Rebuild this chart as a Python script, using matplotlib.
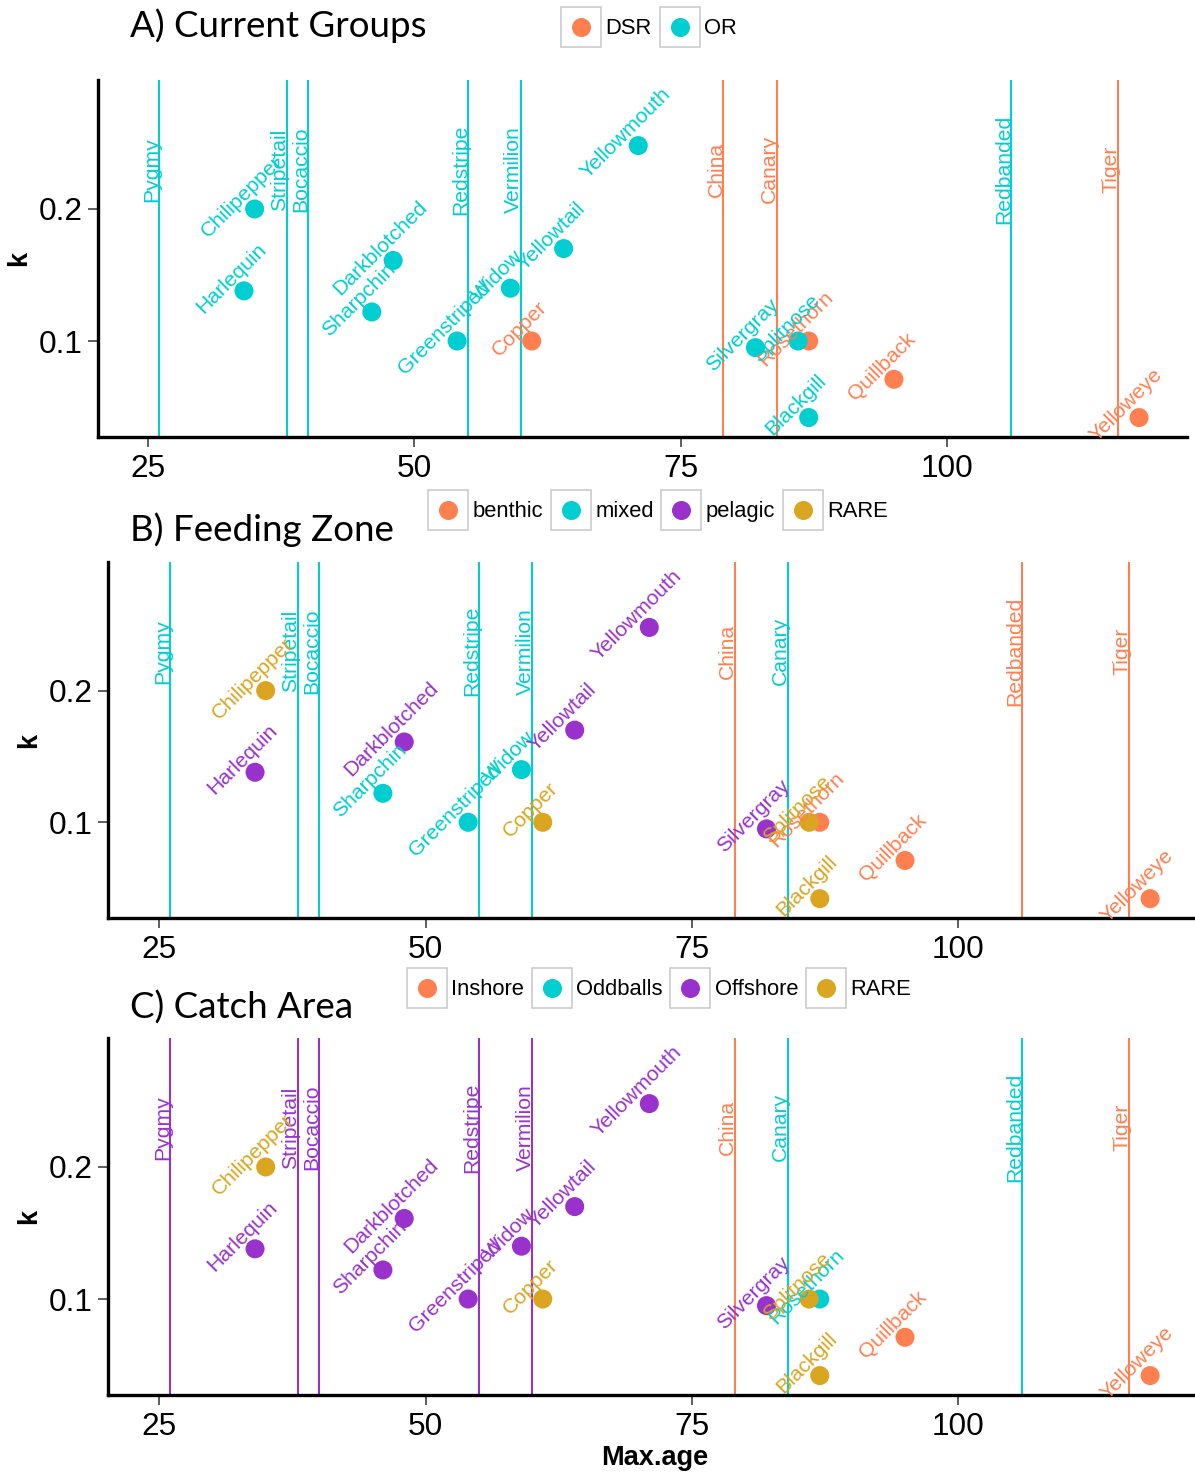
import matplotlib
matplotlib.use('Agg')
import matplotlib.pyplot as plt
from matplotlib.lines import Line2D
from matplotlib.patches import Rectangle

# Especies com k estimado (pontos)
species = ['Chilipepper', 'Harlequin', 'Darkblotched', 'Sharpchin', 'Greenstriped', 'Widow',
           'Copper', 'Yellowtail', 'Yellowmouth', 'Silvergray', 'Rosethorn', 'Splitnose',
           'Blackgill', 'Quillback', 'Yelloweye']
max_age = [35, 34, 48, 46, 54, 59, 61, 64, 71, 82, 87, 86, 87, 95, 118]
k_vals = [0.200, 0.138, 0.161, 0.122, 0.100, 0.140, 0.100, 0.170, 0.248, 0.095, 0.100, 0.100,
          0.042, 0.071, 0.042]

# Especies sem k (linhas verticais)
line_species = ['Pygmy', 'Stripetail', 'Bocaccio', 'Redstripe', 'Vermilion', 'China', 'Canary',
                'Redbanded', 'Tiger']
line_age = [26, 38, 40, 55, 60, 79, 84, 106, 116]

# Grupos de cada painel
group_pts = ['OR', 'OR', 'OR', 'OR', 'OR', 'OR', 'DSR', 'OR', 'OR', 'OR', 'DSR', 'OR', 'OR', 'DSR', 'DSR']
group_lines = ['OR', 'OR', 'OR', 'OR', 'OR', 'DSR', 'DSR', 'OR', 'DSR']
group_levels = ['DSR', 'OR']

zone_pts = ['RARE', 'pelagic', 'pelagic', 'mixed', 'mixed', 'mixed', 'RARE', 'pelagic', 'pelagic',
            'pelagic', 'benthic', 'RARE', 'RARE', 'benthic', 'benthic']
zone_lines = ['mixed', 'mixed', 'mixed', 'mixed', 'mixed', 'benthic', 'mixed', 'benthic', 'benthic']
zone_levels = ['benthic', 'mixed', 'pelagic', 'RARE']

area_pts = ['RARE', 'Offshore', 'Offshore', 'Offshore', 'Offshore', 'Offshore', 'RARE', 'Offshore',
            'Offshore', 'Offshore', 'Oddballs', 'RARE', 'RARE', 'Inshore', 'Inshore']
area_lines = ['Offshore', 'Offshore', 'Offshore', 'Offshore', 'Offshore', 'Inshore', 'Oddballs',
              'Oddballs', 'Inshore']
area_levels = ['Inshore', 'Oddballs', 'Offshore', 'RARE']

coral, cyan, purple, gold = '#FF7F50', '#00CED1', '#9932CC', '#DAA520'

W, H = 1195, 1475
fig = plt.figure(figsize=(W / 100, H / 100), dpi=100)
lab_font = ['Liberation Sans', 'DejaVu Sans']
title_font = ['Lato', 'DejaVu Sans']


# Chave da legenda: caixa cinza com o ponto no centro (estilo ggplot)
class KeyHandler:
    def legend_artist(self, legend, orig_handle, fontsize, handlebox):
        x0, y0 = handlebox.xdescent, handlebox.ydescent
        w, h = handlebox.width, handlebox.height
        tr = handlebox.get_transform()
        rect = Rectangle((-x0, -y0), w, h, fc='white', ec='#cccccc', lw=1.2, transform=tr)
        dot = Line2D([-x0 + w / 2], [-y0 + h / 2], ls='', marker='o', markersize=13.7,
                     color=orig_handle.get_color(), mec='none', transform=tr)
        handlebox.add_artist(rect)
        handlebox.add_artist(dot)
        return rect


def painel(box, xlim, pts, lines, levels, colors, title, title_y, leg_xy, xlabel=False):
    left, top, right, bottom = box
    ax = fig.add_axes([left / W, 1 - bottom / H, (right - left) / W, (bottom - top) / H])
    cmap = dict(zip(levels, colors))

    for nome, x, g in zip(line_species, line_age, lines):
        ax.axvline(x, color=cmap[g], lw=1.5, zorder=1)
        ax.annotate(nome, (x, 0.23), xytext=(-1.2, 0), textcoords='offset points',
                    rotation=90, rotation_mode='anchor', ha='center', va='baseline',
                    color=cmap[g], fontsize=15.2, family=lab_font, zorder=3)

    for x, kk, g in zip(max_age, k_vals, pts):
        ax.scatter(x, kk, s=188, color=cmap[g], edgecolors='none', zorder=2)
    for nome, x, kk, g in zip(species, max_age, k_vals, pts):
        ax.annotate(nome, (x, kk), xytext=(-9, 9), textcoords='offset points',
                    rotation=45, rotation_mode='anchor', ha='center', va='center',
                    color=cmap[g], fontsize=15.2, family=lab_font, zorder=3)

    ax.set_xlim(*xlim)
    ax.set_ylim(0.0273, 0.2977)
    ax.set_xticks([25, 50, 75, 100])
    ax.set_yticks([0.1, 0.2])
    ax.set_yticklabels(['0.1', '0.2'])
    for s in ['top', 'right']:
        ax.spines[s].set_visible(False)
    for s in ['left', 'bottom']:
        ax.spines[s].set_linewidth(2.4)
        ax.spines[s].set_color('black')
    ax.tick_params(length=7, width=1.1, color='#333333', labelsize=22.8, labelcolor='black')
    ax.tick_params(axis='y', pad=4)
    ax.tick_params(axis='x', pad=5)
    for t in ax.get_xticklabels() + ax.get_yticklabels():
        t.set_family(lab_font)
    ax.set_ylabel('k', fontsize=19.5, fontweight='bold', family=lab_font)
    ax.yaxis.set_label_coords(-0.0606, 0.5)

    fig.text(130 / W, 1 - title_y / H, title, fontsize=26.5, family=title_font,
             ha='left', va='baseline')

    handles = [Line2D([], [], color=c) for c in colors]
    fig.legend(handles, levels, loc='center', ncol=len(levels),
               bbox_to_anchor=(leg_xy[0] / W, 1 - leg_xy[1] / H),
               handler_map={Line2D: KeyHandler()},
               frameon=False, prop={'family': lab_font, 'size': 15.8},
               handlelength=1.82, handleheight=2.42, handletextpad=0.2,
               columnspacing=0.35, borderpad=0, borderaxespad=0)
    if xlabel:
        fig.text(655 / W, 1 - 1458 / H, 'Max.age', fontsize=19.5, fontweight='bold',
                 family=lab_font, ha='center', va='center')
    return ax


painel((98, 80, 1187, 437), (20.3, 122.5), group_pts, group_lines, group_levels,
       [coral, cyan], 'A) Current Groups', 37, (649, 27))
painel((108, 562, 1197, 918), (20.2, 122.4), zone_pts, zone_lines, zone_levels,
       [coral, cyan, purple, gold], 'B) Feeding Zone', 541, (658, 510))
painel((108, 1038, 1197, 1395), (20.2, 122.4), area_pts, area_lines, area_levels,
       [coral, cyan, purple, gold], 'C) Catch Area', 1019, (659, 988), xlabel=True)

plt.savefig('out.png', dpi=100)
